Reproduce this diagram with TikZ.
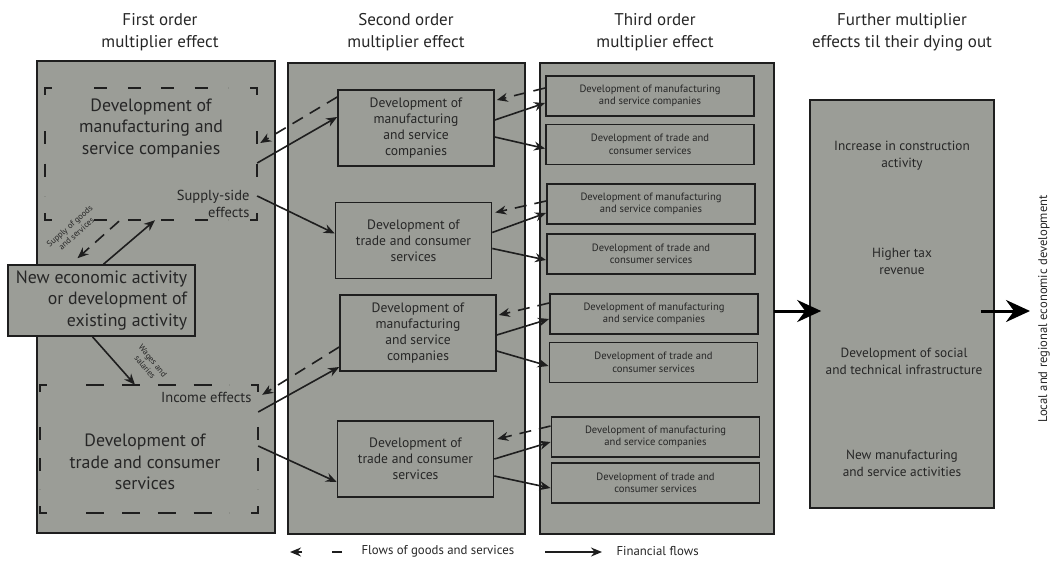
\documentclass[tikz,border=0pt]{standalone}
\usepackage{fontspec}
\setmainfont{PT Sans}
\usetikzlibrary{arrows.meta, positioning, calc, decorations}
\definecolor{panel}{RGB}{155,157,151}
\definecolor{ink}{RGB}{30,30,30}
\definecolor{txt}{RGB}{38,38,38}

\begin{document}
\begin{tikzpicture}[x=1pt, y=-1pt,
    every node/.append style={text=txt},
    colbox/.style={draw=ink, line width=1.6pt, fill=panel, inner sep=0pt},
    effbox/.style={inner sep=0pt},
    effcorner/.style={draw=ink, line width=1.6pt},
    effside/.style={draw=ink, line width=1.6pt, dash pattern=on #1 off 16pt, dash expand off},
    effside/.default=13pt,
    midbox/.style={draw=ink, line width=1.6pt, fill=panel, align=center, inner sep=0pt,
        minimum width=156pt, minimum height=76pt, font=\fontsize{13.6}{16}\selectfont},
    smallbox/.style={draw=ink, line width=1.9pt, align=center, inner sep=0pt,
        minimum width=208pt, minimum height=40pt, font=\fontsize{10.6}{12.5}\selectfont},
    title/.style={align=center, font=\fontsize{17}{22}\selectfont},
    bigtxt/.style={align=center, font=\fontsize{17.8}{21.5}\selectfont},
    efftxt/.style={align=right, font=\fontsize{14.5}{17}\selectfont},
    flowtxt/.style={align=center, font=\fontsize{8.5}{10}\selectfont},
    furthertxt/.style={align=center, font=\fontsize{13.3}{17}\selectfont},
    fin/.style={draw=ink, line width=1.6pt, -{Stealth[length=11pt, width=9pt]}},
    goods/.style={fin, dash pattern=on 12pt off 8pt},
    big/.style={draw=black, line width=3pt, -{Stealth[length=24pt, width=22pt, inset=8pt]}}]

    \useasboundingbox (0,0) rectangle (1052,563);

    % columns
    \node[colbox, minimum width=238pt, minimum height=472pt] (col1) at (156,297) {};
    \node[colbox, minimum width=237pt, minimum height=471pt] (col2) at (406.5,298.5) {};
    \node[colbox, minimum width=234pt, minimum height=471pt] (col3) at (657,298.5) {};
    \node[colbox, minimum width=184pt, minimum height=408pt] (col4) at (902,304) {};

    \node[title] (t1) at (160,32) {First order\\multiplier effect};
    \node[title] (t2) at (406,32) {Second order\\multiplier effect};
    \node[title] (t3) at (655,32) {Third order\\multiplier effect};
    \node[title] (t4) at (902,32) {Further multiplier\\effects til their dying out};

    % First order
    \node[effbox, minimum width=212pt, minimum height=132pt] (upD) at (151,154) {};
    \node[effbox, minimum width=218pt, minimum height=128pt] (loD) at (149,449) {};
    \foreach \eff/\dl in {upD/13pt, loD/18pt} {
        \draw[effcorner] ($(\eff.north west)+(0,7)$) -- (\eff.north west) -- ++(7,0);
        \draw[effcorner] ($(\eff.north east)+(-7,0)$) -- (\eff.north east) -- ++(0,7);
        \draw[effcorner] ($(\eff.south east)+(0,-7)$) -- (\eff.south east) -- ++(-7,0);
        \draw[effcorner] ($(\eff.south west)+(7,0)$) -- (\eff.south west) -- ++(0,-7);
        \draw[effside=\dl] ($(\eff.north west)+(29,0)$) -- ($(\eff.north east)+(-29,0)$);
        \draw[effside=\dl] ($(\eff.south west)+(29,0)$) -- ($(\eff.south east)+(-29,0)$);
        \draw[effside] ($(\eff.north west)+(0,24)$) -- ($(\eff.south west)+(0,-24)$);
        \draw[effside] ($(\eff.north east)+(0,24)$) -- ($(\eff.south east)+(0,-24)$);
    }
    \node[bigtxt] (upT) at (151,128) {Development of\\manufacturing and\\service companies};
    \node[bigtxt] (loT) at (145,462) {Development of\\trade and consumer\\services};
    \node[efftxt, anchor=east] (supply) at (253,204) {Supply-side\\effects};
    \node[efftxt, anchor=east] (income) at (255,397) {Income effects};
    \node[draw=ink, line width=1.6pt, fill=panel, align=right, inner sep=0pt,
        minimum width=187pt, minimum height=71pt, font=\fontsize{17.8}{21.5}\selectfont]
        (newA) at (101.5,300.5) {New economic activity\\or development of\\existing activity};
    \node[flowtxt, rotate=42] (supLbl) at (73,230) {Supply of goods\\and services};
    \node[flowtxt, rotate=-50] (wageLbl) at (149,364) {Wages and\\salaries};

    \draw[fin] ($(newA.north)+(2,0)$) -- ($(upD.south)+(4,0)$);
    \draw[goods] ($(upD.south)+(-32,1)$) -- ($(newA.north)+(-24,-6)$);
    \draw[fin] ($(newA.south)+(-9,0)$) -- ($(loD.north)+(-14,0)$);

    % Second order
    \node[midbox] (b1) at (416,128) {Development of\\manufacturing\\and service\\companies};
    \node[midbox] (b2) at (413.5,240.5) {Development of\\trade and consumer\\services};
    \node[midbox] (b3) at (418,333) {Development of\\manufacturing\\and service\\companies};
    \node[midbox] (b4) at (415.5,459) {Development of\\trade and consumer\\services};

    \draw[fin] ($(upD.east)+(0,9)$) -- ($(b1.west)+(0,-11)$);
    \draw[goods] ($(b1.west)+(0,-31)$) -- ($(upD.east)+(3,-11)$);
    \draw[fin] ($(upD.east)+(0,42)$) -- ($(b2.west)+(0,-7)$);
    \draw[goods] ($(b3.west)+(0,14)$) -- ($(loD.north east)+(4,10)$);
    \draw[fin] ($(loD.east)+(0,-37)$) -- ($(b3.west)+(0,34)$);
    \draw[fin] ($(loD.east)+(0,-3)$) -- ($(b4.west)+(0,23)$);

    % Third order
    \node[smallbox] (c1) at (650,96) {Development of manufacturing\\and service companies};
    \node[smallbox] (c2) at (650,144.5) {Development of trade and\\consumer services};
    \node[smallbox] (c3) at (651,204) {Development of manufacturing\\and service companies};
    \node[smallbox] (c4) at (651,254) {Development of trade and\\consumer services};
    \node[smallbox] (c5) at (654,314) {Development of manufacturing\\and service companies};
    \node[smallbox] (c6) at (653.5,362.5) {Development of trade and\\consumer services};
    \node[smallbox] (c7) at (655.5,437) {Development of manufacturing\\and service companies};
    \node[smallbox] (c8) at (655.5,483) {Development of trade and\\consumer services};

    \draw[goods] ($(c1.west)+(0,-8)$) -- ($(b1.east)+(2,-28)$);
    \draw[fin] ($(b1.east)+(0,-8)$) -- ($(c1.west)+(0,7)$);
    \draw[fin] ($(b1.east)+(0,9)$) -- ($(c2.west)+(0,4)$);
    \draw[goods] ($(c3.west)+(0,-3)$) -- ($(b2.east)+(3,-28)$);
    \draw[fin] ($(b2.east)+(0,-8)$) -- ($(c3.west)+(0,9)$);
    \draw[fin] ($(b2.east)+(0,8)$) -- ($(c4.west)+(0,6)$);
    \draw[goods] ($(c5.west)+(0,-11)$) -- ($(b3.east)+(2,-18)$);
    \draw[fin] ($(b3.east)+(0,2)$) -- ($(c5.west)+(0,5)$);
    \draw[fin] ($(b3.east)+(0,18)$) -- ($(c6.west)+(0,3.5)$);
    \draw[goods] ($(c7.west)+(0,-11)$) -- ($(b4.east)+(3,-20)$);
    \draw[fin] ($(b4.east)+(0,0)$) -- ($(c7.west)+(0,5)$);
    \draw[fin] ($(b4.east)+(0,17)$) -- ($(c8.west)+(0,5)$);

    % Further effects
    \node[furthertxt] (f1) at (902,156) {Increase in construction\\activity};
    \node[furthertxt] (f2) at (902,261) {Higher tax\\revenue};
    \node[furthertxt] (f3) at (904,361) {Development of social\\and technical infrastructure};
    \node[furthertxt] (f4) at (902,463) {New manufacturing\\and service activities};
    \node[rotate=90, font=\fontsize{12.6}{14}\selectfont] (outcome) at (1044,309)
        {Local and regional economic development};
    \coordinate (endpt) at (1030,311);

    \draw[big] ($(col3.east)+(-1,12.5)$) -- ($(col4.west)+(12,7)$);
    \draw[big] ($(col4.east)+(-14,7)$) -- (endpt);

    % legend
    \coordinate (legA) at (342,552);
    \coordinate (legB) at (290,552);
    \coordinate (legC) at (545,552);
    \coordinate (legD) at (602,552);
    \draw[fin, dash pattern=on 10pt off 30pt] (legA) -- (legB);
    \node[anchor=west, font=\fontsize{12.8}{15}\selectfont] (legG) at (358,551) {Flows of goods and services};
    \draw[fin] (legC) -- (legD);
    \node[anchor=west, font=\fontsize{12.8}{15}\selectfont] (legF) at (613,551) {Financial flows};
\end{tikzpicture}
\end{document}
